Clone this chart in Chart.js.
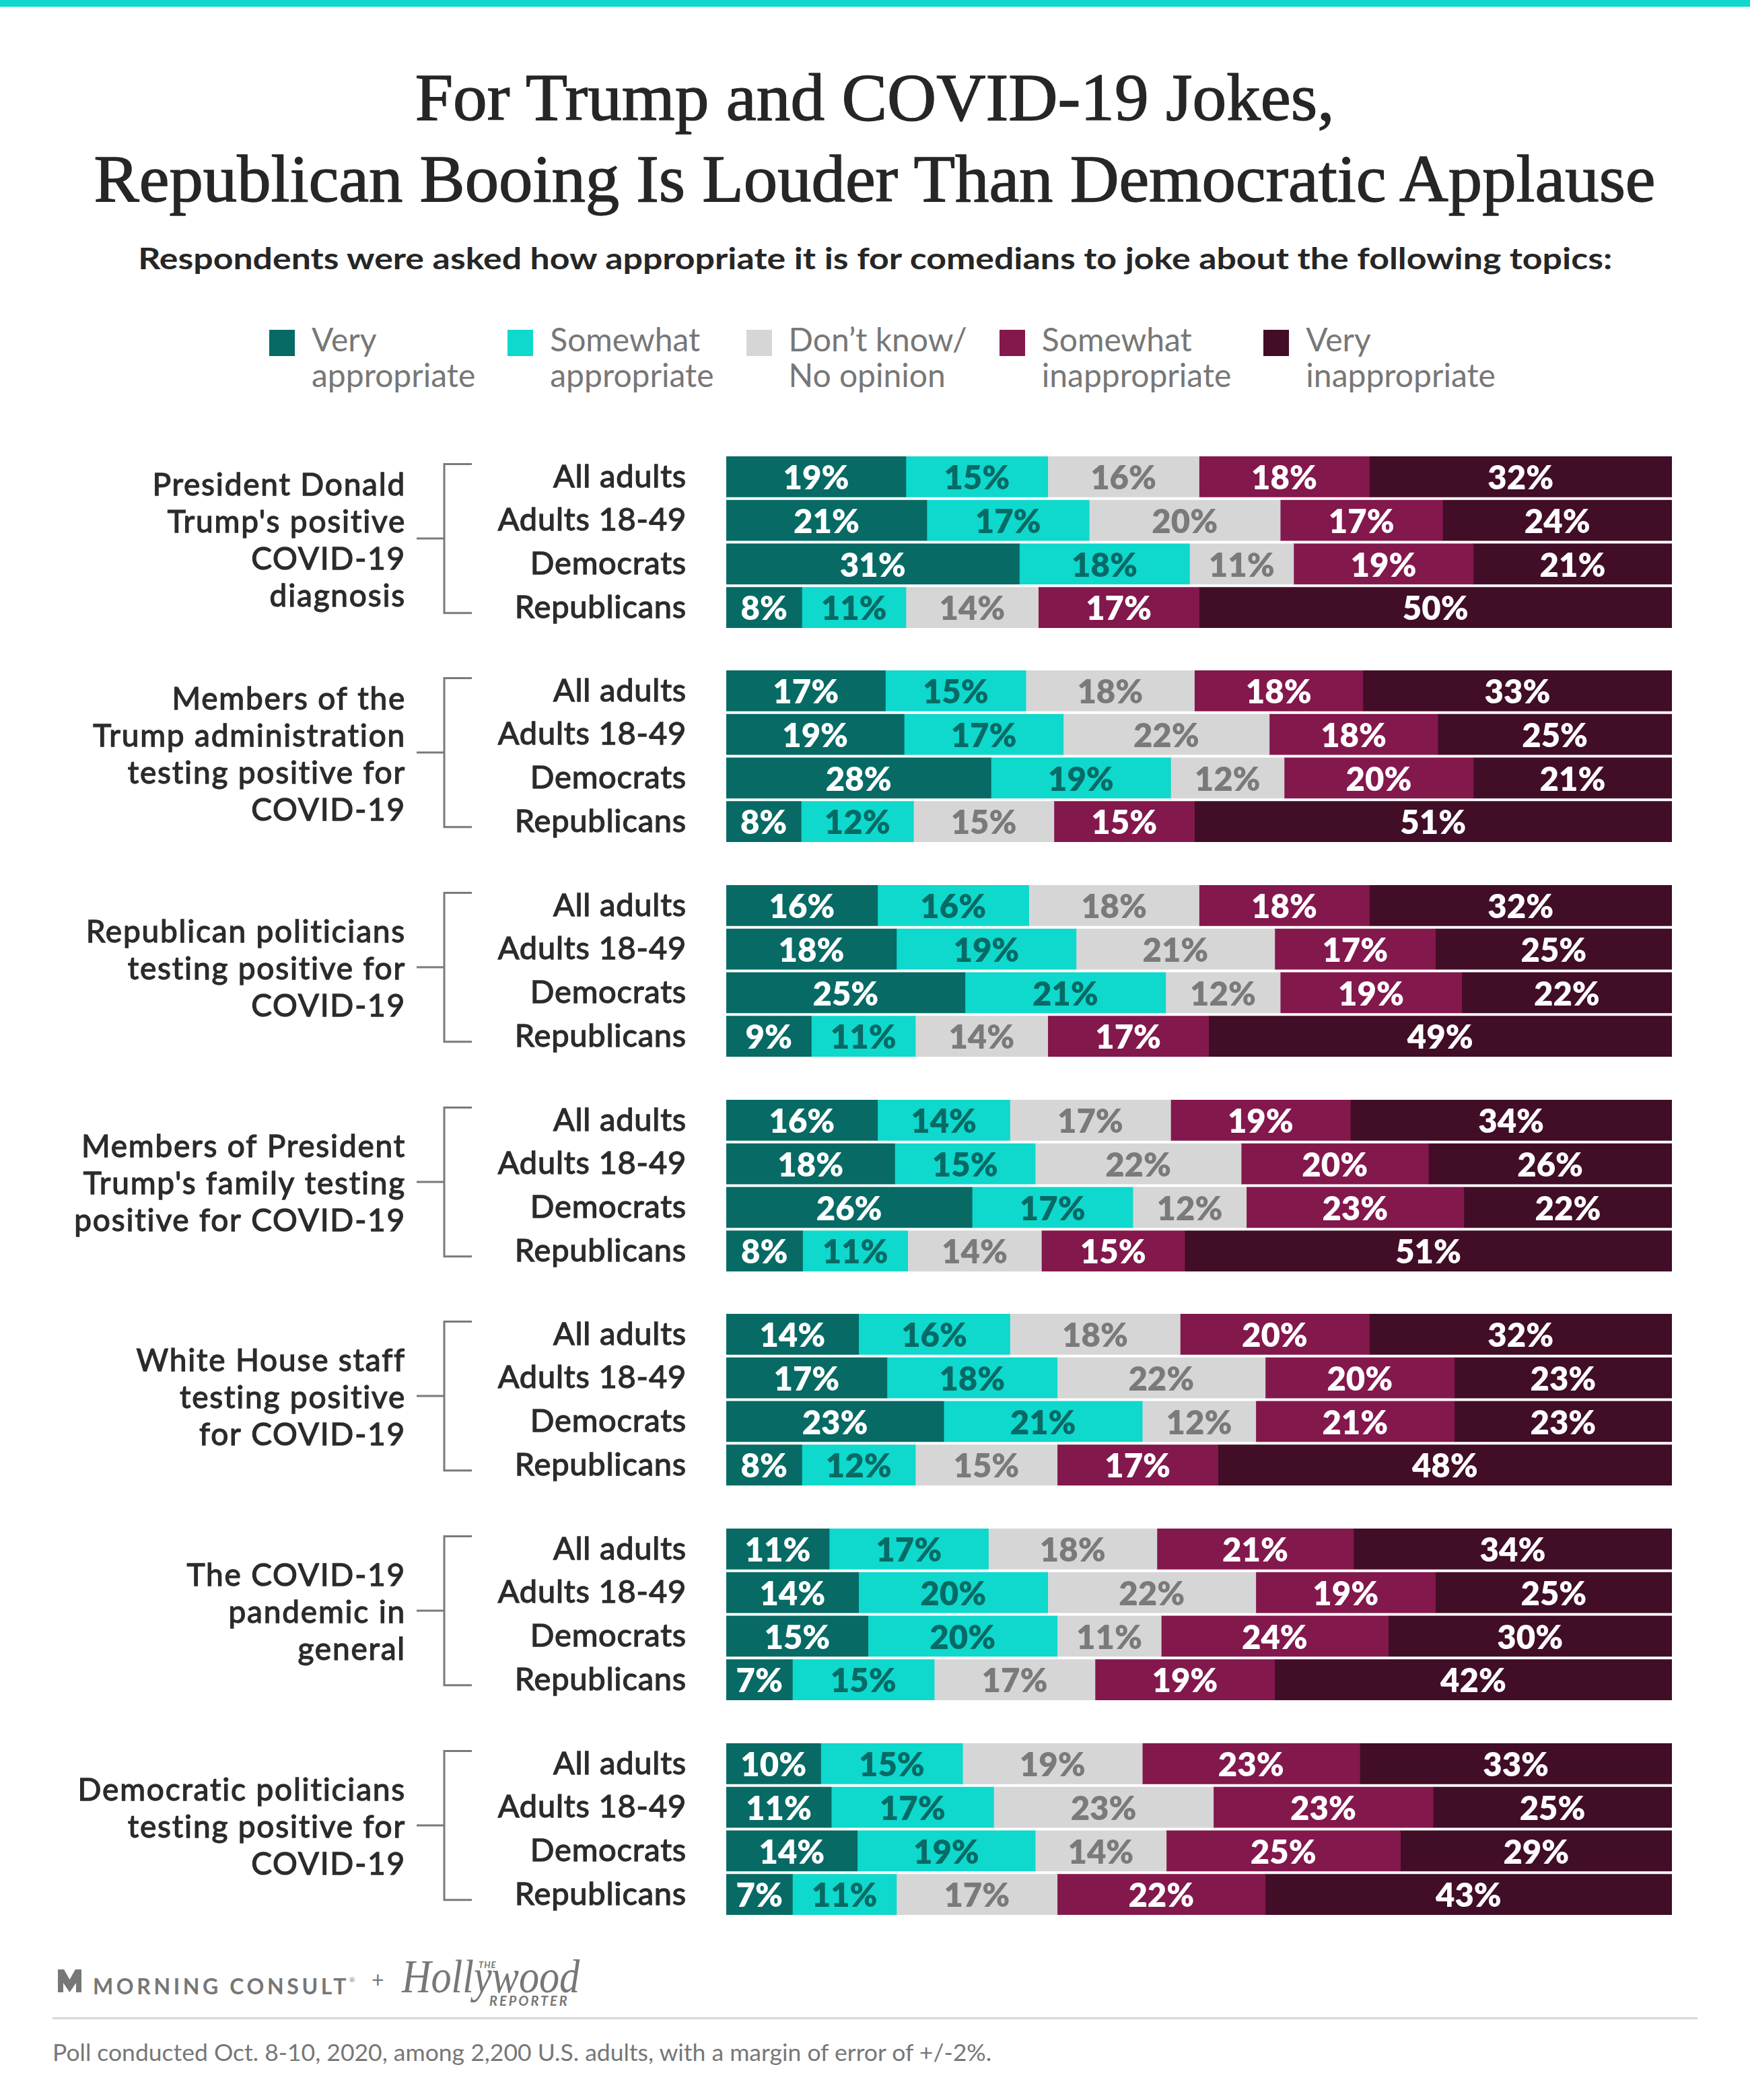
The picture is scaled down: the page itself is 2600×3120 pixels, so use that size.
<!DOCTYPE html>
<html>
<head>
<meta charset="utf-8">
<script src="https://cdn.jsdelivr.net/npm/chart.js@4.4.0/dist/chart.umd.min.js"></script>
<style>
  body { margin: 0; background: #fff; }
  #page { position: relative; width: 2600px; height: 3120px; overflow: hidden; font-family: Lato, sans-serif; }
  .topbar { position: absolute; left: 0; top: 0; width: 2600px; height: 10px; background: #10d8cc; }
  .line { position: absolute; left: 0; width: 2600px; text-align: center; white-space: nowrap; }
  .line span { display: inline-block; transform-origin: 50% 50%; }
  .title { font-family: 'Liberation Serif', serif; font-size: 100px; line-height: 100px; color: #262626; -webkit-text-stroke: 1.4px #262626; }
  .subtitle { font-weight: 700; font-size: 43px; line-height: 43px; color: #262626; }
  #legend { position: absolute; left: 400px; top: 477px; display: flex; }
  .item { display: flex; margin-right: 48px; }
  .swatch { width: 38px; height: 39px; margin-top: 13px; margin-right: 25px; }
  .ltext { font-size: 48px; line-height: 53px; color: #777; }
  canvas.group { position: absolute; left: 0; }
  .rule { position: absolute; left: 78px; top: 2997px; width: 2444px; height: 3px; background: #d8d8d8; }
  .note { position: absolute; left: 78px; top: 3031px; font-size: 35.5px; line-height: 35px; color: #777; white-space: nowrap; }
  .mc { position: absolute; left: 138px; top: 2925px; font-size: 32px; line-height: 32px; font-weight: 700; letter-spacing: 4.6px; color: #777; white-space: nowrap; }
  .mc sup { font-size: 10px; letter-spacing: 0; vertical-align: 18px; font-weight: 400; }
  .plus { position: absolute; left: 552px; top: 2925px; font-size: 32px; line-height: 32px; color: #777; }
  .hw { position: absolute; left: 597px; top: 2902px; font-family: 'Liberation Serif', serif; font-style: italic; font-size: 70px; line-height: 70px; color: #777; white-space: nowrap; transform: scaleX(0.86); transform-origin: 0 50%; }
  .the { position: absolute; left: 711px; top: 2913px; font-size: 13px; line-height: 13px; font-weight: 700; font-style: italic; letter-spacing: 1px; color: #777; }
  .rep { position: absolute; left: 727px; top: 2962px; font-size: 20px; line-height: 20px; font-weight: 700; font-style: italic; letter-spacing: 3px; color: #777; }
</style>
</head>
<body>
<div id="page">
  <div class="topbar"></div>
  <div class="line title" style="top:95px"><span data-fit="1366">For Trump and COVID-19 Jokes,</span></div>
  <div class="line title" style="top:216px"><span data-fit="2320">Republican Booing Is Louder Than Democratic Applause</span></div>
  <div class="line subtitle" style="top:362px"><span data-fit="2190">Respondents were asked how appropriate it is for comedians to joke about the following topics:</span></div>
  <div id="legend"></div>
  <div id="charts"></div>
  <svg style="position:absolute;left:86px;top:2926px" width="35" height="34" viewBox="0 0 35 34">
    <path d="M0,0 L9,0 L17.5,15 L26,0 L35,0 L35,34 L27,34 L27,20 L17.5,34 L8,20 L8,34 L0,34 Z" fill="#777"/>
  </svg>
  <div class="mc">MORNING CONSULT<sup>®</sup></div>
  <div class="plus">+</div>
  <div class="hw">Hollywood</div>
  <div class="the">THE</div>
  <div class="rep">REPORTER</div>
  <div class="rule"></div>
  <div class="note">Poll conducted Oct. 8-10, 2020, among 2,200 U.S. adults, with a margin of error of +/-2%.</div>
</div>
<script>
// Topics (one entry per bar group, split into display lines)
const topics = [
    ['President Donald', "Trump's positive", 'COVID-19', 'diagnosis'],
    ['Members of the', 'Trump administration', 'testing positive for', 'COVID-19'],
    ['Republican politicians', 'testing positive for', 'COVID-19'],
    ['Members of President', "Trump's family testing", 'positive for COVID-19'],
    ['White House staff', 'testing positive', 'for COVID-19'],
    ['The COVID-19', 'pandemic in', 'general'],
    ['Democratic politicians', 'testing positive for', 'COVID-19']
];
const groups = ['All adults', 'Adults 18-49', 'Democrats', 'Republicans'];
const seriesNames = [
    ['Very', 'appropriate'],
    ['Somewhat', 'appropriate'],
    ['Don\u2019t know/', 'No opinion'],
    ['Somewhat', 'inappropriate'],
    ['Very', 'inappropriate']
];

// Values per topic: [All adults, Adults 18-49, Democrats, Republicans]
const veryApp   = [[19, 21, 31, 8], [17, 19, 28, 8], [16, 18, 25, 9], [16, 18, 26, 8], [14, 17, 23, 8], [11, 14, 15, 7], [10, 11, 14, 7]];
const someApp   = [[15, 17, 18, 11], [15, 17, 19, 12], [16, 19, 21, 11], [14, 15, 17, 11], [16, 18, 21, 12], [17, 20, 20, 15], [15, 17, 19, 11]];
const noOpinion = [[16, 20, 11, 14], [18, 22, 12, 15], [18, 21, 12, 14], [17, 22, 12, 14], [18, 22, 12, 15], [18, 22, 11, 17], [19, 23, 14, 17]];
const someInapp = [[18, 17, 19, 17], [18, 18, 20, 15], [18, 17, 19, 17], [19, 20, 23, 15], [20, 20, 21, 17], [21, 19, 24, 19], [23, 23, 25, 22]];
const veryInapp = [[32, 24, 21, 50], [33, 25, 21, 51], [32, 25, 22, 49], [34, 26, 22, 51], [32, 23, 23, 48], [34, 25, 30, 42], [33, 25, 29, 43]];

const series = [veryApp, someApp, noOpinion, someInapp, veryInapp];
const colors = ['#076a65', '#0fd8cd', '#d6d6d6', '#83184d', '#410d27'];
const labelColors = ['#ffffff', '#076a65', '#7a7a7a', '#ffffff', '#ffffff'];

// Fit the headline lines to the reference widths
document.querySelectorAll('[data-fit]').forEach(function(el) {
    const w = el.getBoundingClientRect().width;
    el.style.transform = 'scaleX(' + (parseFloat(el.dataset.fit) / w) + ')';
});

// Legend
const legend = document.getElementById('legend');
seriesNames.forEach(function(name, i) {
    const item = document.createElement('div');
    item.className = 'item';
    item.innerHTML = '<div class="swatch" style="background:' + colors[i] + '"></div>' +
        '<div class="ltext">' + name[0] + '<br>' + name[1] + '</div>';
    legend.appendChild(item);
});

// Topic label and bracket to the left of each group
const topicPlugin = {
    id: 'topicBracket',
    beforeDraw(chart) {
        chart.ctx.letterSpacing = '0.8px';
    },
    afterDraw(chart, args, opts) {
        const ctx = chart.ctx;
        const y = chart.scales.y;
        const top = y.getPixelForValue(0) - 19;
        const bottom = y.getPixelForValue(3) + 8;
        const mid = (top + bottom) / 2;
        ctx.save();
        ctx.strokeStyle = '#7a7a7a';
        ctx.lineWidth = 3;
        ctx.beginPath();
        ctx.moveTo(701, top);
        ctx.lineTo(660, top);
        ctx.lineTo(660, bottom);
        ctx.lineTo(701, bottom);
        ctx.moveTo(619, mid);
        ctx.lineTo(660, mid);
        ctx.stroke();

        ctx.font = '46px Lato';
        ctx.letterSpacing = '1.8px';
        ctx.fillStyle = '#2b2b2b';
        ctx.strokeStyle = '#2b2b2b';
        ctx.lineWidth = 1.3;
        ctx.textAlign = 'right';
        ctx.textBaseline = 'alphabetic';
        const lines = opts.lines;
        lines.forEach(function(t, i) {
            const yy = mid + (i - (lines.length - 1) / 2) * 55 + 18;
            ctx.strokeText(t, 603, yy);
            ctx.fillText(t, 603, yy);
        });
        ctx.restore();
    }
};

// Percent labels centred in each segment
const valuePlugin = {
    id: 'segmentValues',
    afterDatasetsDraw(chart) {
        const ctx = chart.ctx;
        ctx.save();
        ctx.letterSpacing = '0px';
        ctx.font = '800 49px Lato';
        ctx.textAlign = 'center';
        ctx.textBaseline = 'middle';
        chart.data.datasets.forEach(function(ds, i) {
            chart.getDatasetMeta(i).data.forEach(function(bar, r) {
                const p = bar.getProps(['x', 'y', 'base'], true);
                ctx.fillStyle = ds.labelColor;
                ctx.fillText(ds.raw[r] + '%', (p.x + p.base) / 2, p.y + 3);
            });
        });
        ctx.restore();
    }
};

// One stacked bar chart per topic
const chartsEl = document.getElementById('charts');
topics.forEach(function(lines, g) {
    const canvas = document.createElement('canvas');
    canvas.className = 'group';
    canvas.width = 2600;
    canvas.height = 259;
    canvas.style.top = Math.round(675.6 + g * 318.67) + 'px';
    chartsEl.appendChild(canvas);

    // rows are drawn to full width, so scale each row by its total
    const totals = groups.map(function(_, r) {
        return series.reduce(function(s, arr) { return s + arr[g][r]; }, 0);
    });

    new Chart(canvas.getContext('2d'), {
        type: 'bar',
        data: {
            labels: groups,
            datasets: series.map(function(arr, i) {
                return {
                    label: seriesNames[i].join(' '),
                    data: arr[g].map(function(v, r) { return v / totals[r] * 100; }),
                    raw: arr[g],
                    labelColor: labelColors[i],
                    backgroundColor: colors[i],
                    borderWidth: 0,
                    barThickness: 60
                };
            })
        },
        options: {
            indexAxis: 'y',
            responsive: false,
            animation: false,
            devicePixelRatio: 1,
            layout: { padding: { left: 0, right: 116, top: 0, bottom: 0 } },
            plugins: {
                legend: { display: false },
                tooltip: { enabled: false },
                topicBracket: { lines: lines }
            },
            scales: {
                x: { stacked: true, min: 0, max: 100, display: false },
                y: {
                    stacked: true,
                    grid: { display: false, drawTicks: false },
                    border: { display: false },
                    ticks: {
                        color: '#2b2b2b',
                        font: { family: 'Lato', size: 47 },
                        textStrokeColor: '#2b2b2b',
                        textStrokeWidth: 1.3,
                        padding: 59
                    },
                    afterFit: function(scale) {
                        scale.width = 1079;
                        scale.paddingTop = 0;
                        scale.paddingBottom = 0;
                    }
                }
            }
        },
        plugins: [topicPlugin, valuePlugin]
    });
});
</script>
</body>
</html>
